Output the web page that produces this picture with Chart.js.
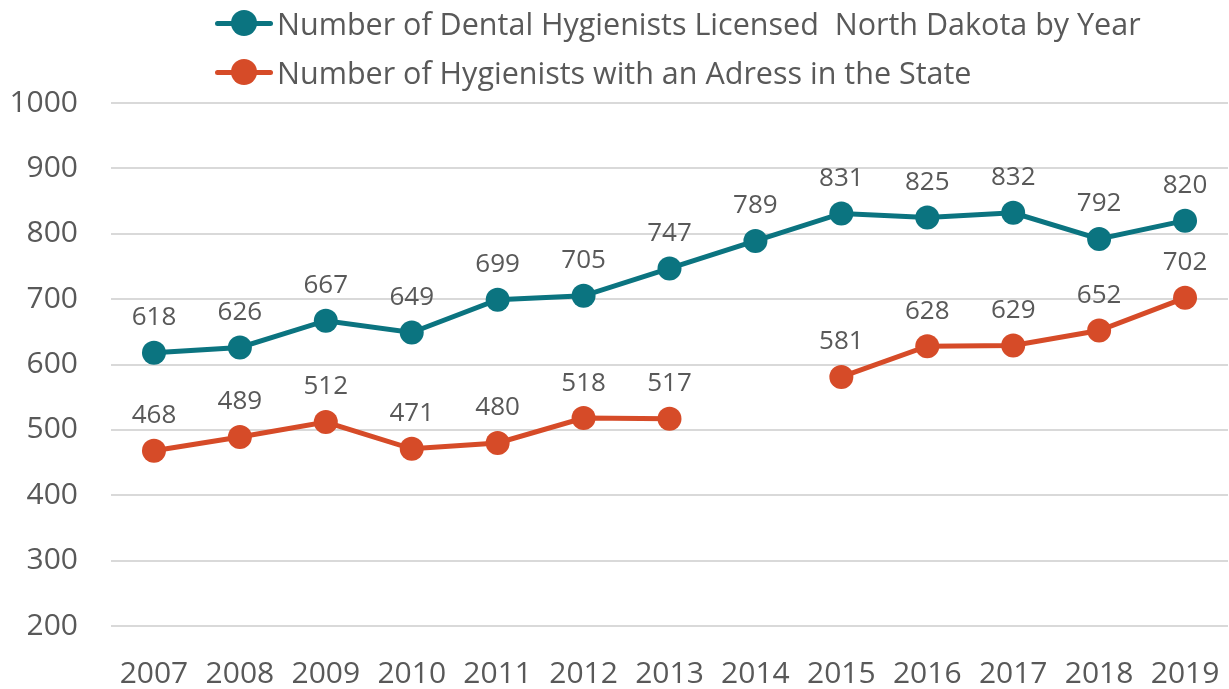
<!DOCTYPE html>
<html><head><meta charset="utf-8">
<script src="https://cdn.jsdelivr.net/npm/chart.js@4/dist/chart.umd.min.js"></script>
<style>
html,body{margin:0;padding:0;background:#fff;}
#wrap{position:relative;width:1229px;height:689px;overflow:hidden;font-family:"Open Sans",sans-serif;}
#c{position:absolute;left:0;top:0;}
.leg{position:absolute;left:215px;height:40px;display:flex;align-items:center;color:#595959;font-size:30.5px;white-space:pre;}
.mk{position:relative;width:58px;height:26px;margin-right:4px;}
.mk .ln{position:absolute;left:0;right:0;top:11px;height:5px;border-radius:3px;}
.mk .dt{position:absolute;left:16px;top:0;width:26px;height:26px;border-radius:50%;}
</style></head>
<body>
<div id="wrap">
<canvas id="c" width="1229" height="689"></canvas>
<div class="leg" id="leg0" style="top:3px"><div class="mk"><div class="ln"></div><div class="dt"></div></div><span></span></div>
<div class="leg" id="leg1" style="top:52px"><div class="mk"><div class="ln"></div><div class="dt"></div></div><span></span></div>
</div>
<script>
const years = ["2007","2008","2009","2010","2011","2012","2013","2014","2015","2016","2017","2018","2019"];
const licensed = [618,626,667,649,699,705,747,789,831,825,832,792,820];
const inState = [468,489,512,471,480,518,517,null,581,628,629,652,702];
const seriesNames = ["Number of Dental Hygienists Licensed  North Dakota by Year","Number of Hygienists with an Adress in the State"];
const colors = ["#0B7480","#D64B28"];
const textColor = "#595959";
const FONT = "'Open Sans', sans-serif";

[0,1].forEach(i=>{
  const el=document.getElementById('leg'+i);
  el.querySelector('span').textContent=seriesNames[i];
  el.querySelector('.ln').style.background=colors[i];
  el.querySelector('.dt').style.background=colors[i];
});

const labelPlugin = {
  id:'dlabels',
  afterDatasetsDraw(chart){
    const ctx=chart.ctx;
    ctx.save();
    ctx.font="26px "+FONT;
    ctx.fillStyle=textColor;
    ctx.textAlign='center';
    ctx.textBaseline='middle';
    chart.data.datasets.forEach((ds,di)=>{
      const meta=chart.getDatasetMeta(di);
      meta.data.forEach((pt,i)=>{
        const v=ds.data[i];
        if(v==null) return;
        ctx.fillText(String(v),pt.x,pt.y-35);
      });
    });
    ctx.restore();
  }
};

new Chart(document.getElementById('c'),{
  type:'line',
  data:{labels:years,datasets:[
    {label:seriesNames[0],data:licensed,borderColor:colors[0],backgroundColor:colors[0],borderWidth:5,pointRadius:12,pointHoverRadius:12,pointBorderWidth:0,tension:0,clip:false},
    {label:seriesNames[1],data:inState,borderColor:colors[1],backgroundColor:colors[1],borderWidth:5,pointRadius:12,pointHoverRadius:12,pointBorderWidth:0,tension:0,spanGaps:false,clip:false}
  ]},
  options:{
    responsive:false,animation:false,
    layout:{autoPadding:false,padding:{top:103,right:1,left:0,bottom:0}},
    plugins:{legend:{display:false},tooltip:{enabled:false}},
    scales:{
      x:{offset:true,grid:{display:false},border:{display:false},
         ticks:{color:textColor,font:{size:30,family:FONT},padding:22,maxRotation:0,autoSkip:false},
         afterFit(s){s.height=63;s.paddingLeft=0;s.paddingRight=0;}},
      y:{min:200,max:1000,grid:{color:"#D9D9D9",lineWidth:2,drawTicks:false},border:{display:false},
         ticks:{stepSize:100,color:textColor,font:{size:30,family:FONT},padding:33,callback:(v)=>String(v)},
         afterFit(s){s.width=111;s.paddingTop=0;s.paddingBottom=0;}}
    }
  },
  plugins:[labelPlugin]
});
</script>
</body></html>
